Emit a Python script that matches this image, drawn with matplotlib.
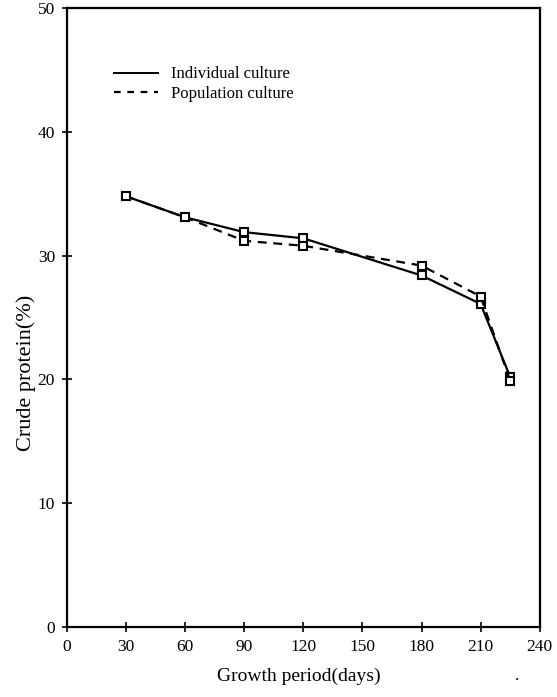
import matplotlib
matplotlib.use("Agg")
import matplotlib.pyplot as plt
from matplotlib.lines import Line2D

days = [30, 60, 90, 120, 180, 210, 225]
individual = [34.8, 33.1, 31.9, 31.4, 28.4, 26.1, 20.2]
population = [34.8, 33.1, 31.2, 30.8, 29.2, 26.7, 19.9]
xticks = [0, 30, 60, 90, 120, 150, 180, 210, 240]
yticks = [0, 10, 20, 30, 40, 50]

plt.rcParams['font.family'] = ['Liberation Serif', 'DejaVu Serif']

fig = plt.figure(figsize=(5.57, 6.97), dpi=100)
ax = fig.add_axes([0.120, 0.1004, 0.849, 0.888])

ax.plot(days, individual, color='black', lw=1.6, ls='-',
        marker='s', ms=6, mfc='white', mec='black', mew=1.5, zorder=3)
ax.plot(days, population, color='black', lw=1.6, ls=(0, (4, 3)),
        marker='s', ms=6, mfc='white', mec='black', mew=1.5, zorder=3)

ax.set_xlim(0, 240)
ax.set_ylim(0, 50)
ax.set_xticks(xticks)
ax.set_yticks(yticks)
ax.tick_params(direction='inout', length=7, width=1.2, labelsize=12.5, pad=5)
for s in ax.spines.values():
    s.set_linewidth(1.6)

ax.set_xlabel('Growth period(days)', fontsize=14)
ax.set_ylabel('Crude protein(%)', fontsize=16)
ax.xaxis.set_label_coords(0.49, -0.065)
ax.yaxis.set_label_coords(-0.066, 0.41)

handles = [Line2D([], [], color='black', lw=1.4, ls='-'),
           Line2D([], [], color='black', lw=1.6, ls=(0, (3, 3)))]
ax.legend(handles, ['Individual culture', 'Population culture'],
          loc='upper left', bbox_to_anchor=(0.069, 0.93), frameon=False,
          fontsize=12, handlelength=2.6, handletextpad=0.8, labelspacing=0.2)

fig.text(0.925, 0.025, '.', fontsize=12)

fig.savefig('out.png', dpi=100)
